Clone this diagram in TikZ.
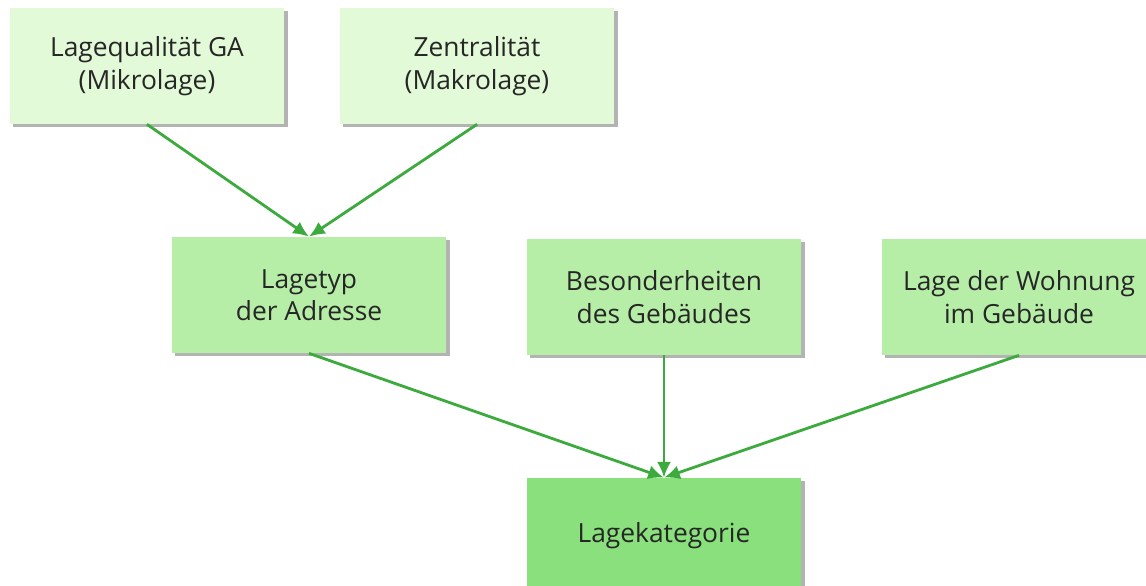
\documentclass[tikz,border=0pt]{standalone}
\usepackage{fontspec}
\setmainfont{Open Sans}
\usetikzlibrary{arrows.meta,shadows}
\definecolor{topgreen}{HTML}{E2FAD7}
\definecolor{midgreen}{HTML}{B6EEA7}
\definecolor{lowgreen}{HTML}{89E07C}
\definecolor{arrowgreen}{HTML}{3DAA3D}
\tikzset{
  box/.style={rectangle, minimum width=5.5cm, minimum height=2.32cm, align=center,
    font=\fontsize{15}{18.5}\selectfont, text=black!85,
    drop shadow={shadow xshift=1.8pt, shadow yshift=-1.8pt, fill=black!50, opacity=0.6}},
  link/.style={-{Latex[length=9pt,width=8pt]}, line width=1.6pt, draw=arrowgreen}
}
\begin{document}
\begin{tikzpicture}[x=0.02cm, y=-0.02cm]
    \useasboundingbox (0,0) rectangle (1146,585);
    \node[box, fill=topgreen] (mikro) at (147,66) {Lagequalität GA\\(Mikrolage)};
    \node[box, fill=topgreen] (makro) at (477,66) {Zentralität\\(Makrolage)};
    \node[box, fill=midgreen] (lagetyp) at (309,295) {Lagetyp\\der Adresse};
    \node[box, fill=midgreen] (gebaeude) at (664,297) {Besonderheiten\\des Gebäudes};
    \node[box, fill=midgreen] (wohnung) at (1019,297) {Lage der Wohnung\\im Gebäude};
    \node[box, fill=lowgreen] (kategorie) at (664,536) {Lagekategorie};
    \foreach \a/\b in {mikro/lagetyp, makro/lagetyp, lagetyp/kategorie, gebaeude/kategorie, wohnung/kategorie}
      \draw[link] (\a.south) -- (\b.north);
  \end{tikzpicture}
\end{document}
